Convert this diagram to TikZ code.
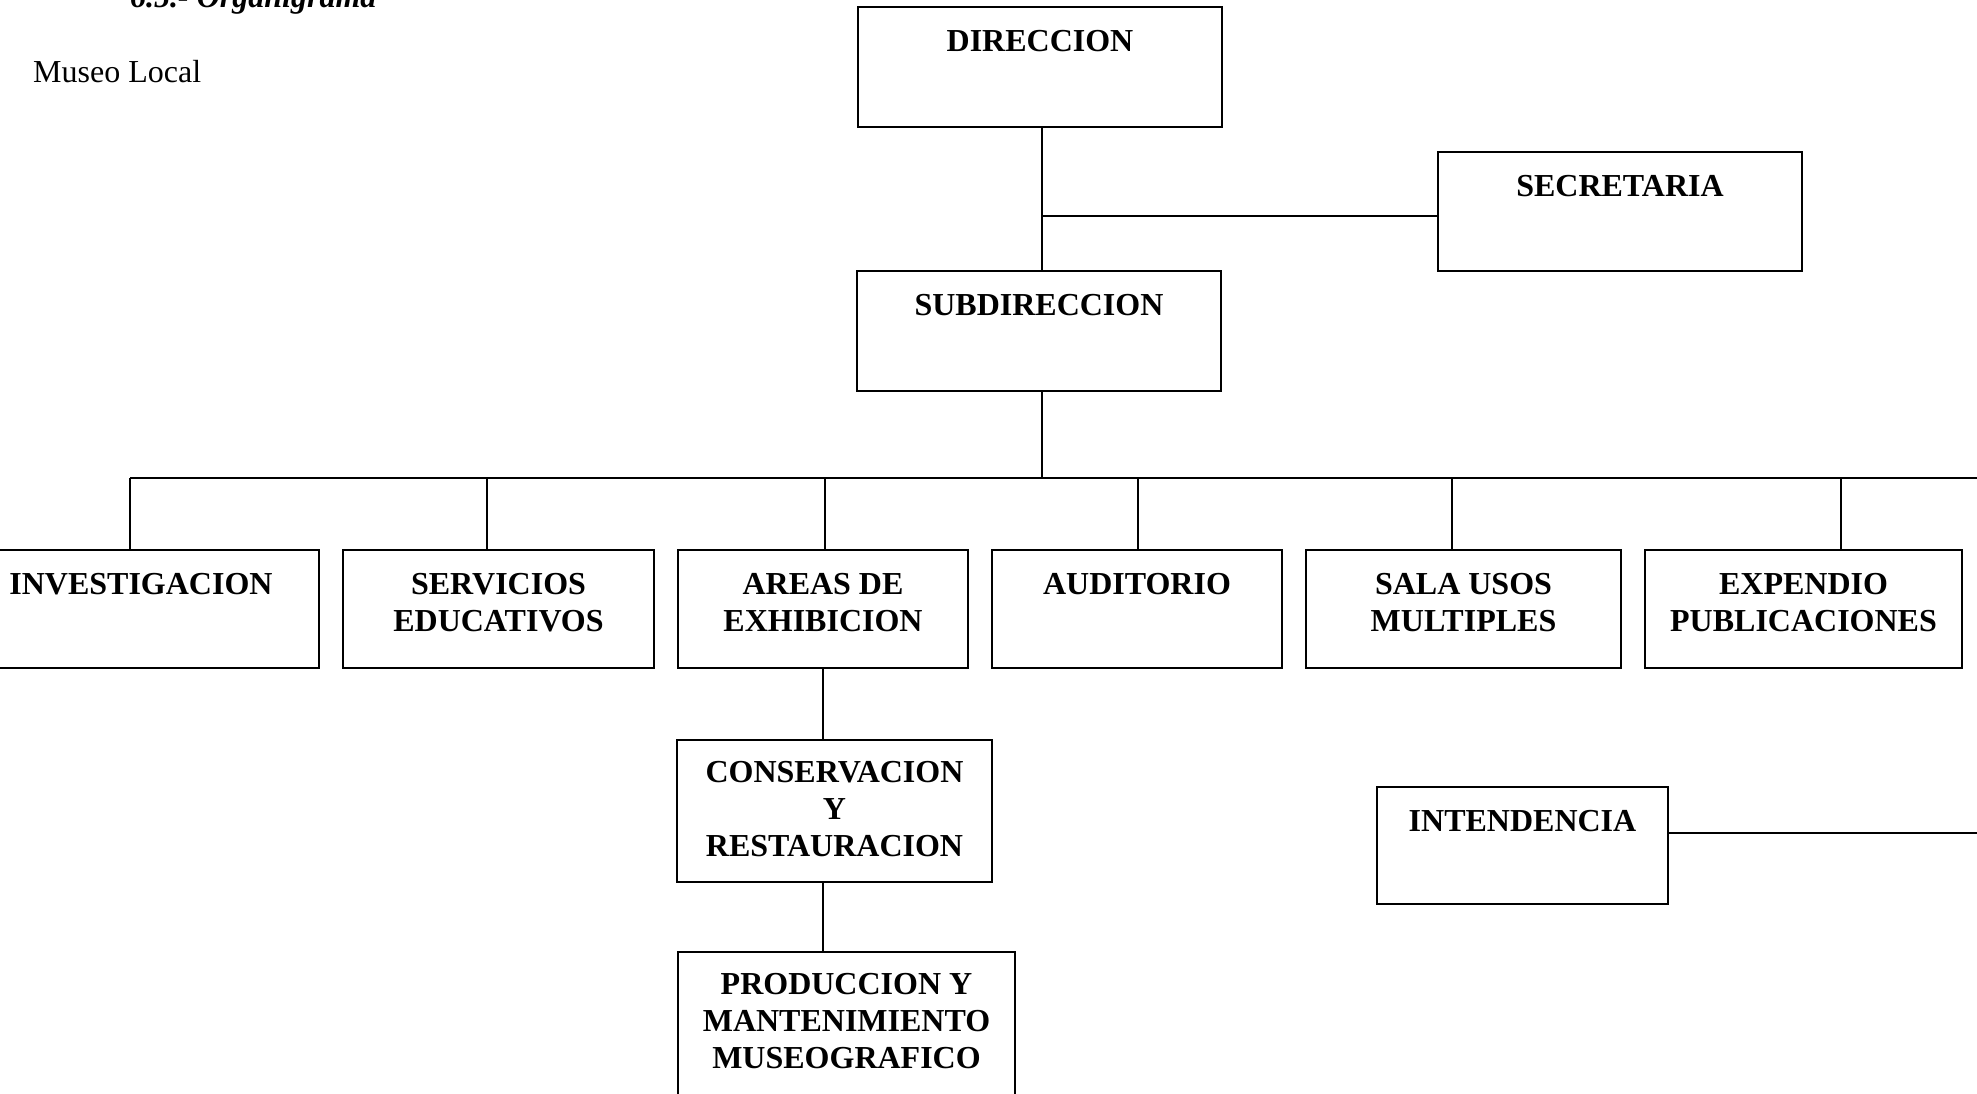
\documentclass[tikz,border=0pt]{standalone}
\usepackage{fontspec}
\setmainfont{Liberation Serif}
\begin{document}
\begin{tikzpicture}[x=1pt,y=-1pt,
  box/.style={draw, line width=1.6pt, inner sep=0pt},
  lbl/.style={anchor=north, yshift=-24pt, inner sep=0pt, align=center,
    font=\fontsize{32}{37}\selectfont\bfseries},
  con/.style={line width=1.6pt}]
\useasboundingbox (0,0) rectangle (1977,1093);
\clip (0,0) rectangle (1977,1093);
% titles
\node[anchor=base west, inner sep=0pt, font=\fontsize{32}{36}\selectfont\bfseries\itshape] (title) at (130,7) {6.5.- Organigrama};
\node[anchor=base west, inner sep=0pt, font=\fontsize{32}{36}\selectfont] (museo) at (33,82) {Museo Local};
% boxes
\node[box, minimum width=364pt, minimum height=120pt, label={[lbl]north:DIRECCION}] (dir) at (1040,67) {};
\node[box, minimum width=364pt, minimum height=119pt, label={[lbl]north:SECRETARIA}] (sec) at (1620,211.5) {};
\node[box, minimum width=364pt, minimum height=120pt, label={[lbl]north:SUBDIRECCION}] (sub) at (1039,331) {};
\node[box, minimum width=356pt, minimum height=118pt, label={[lbl]north:INVESTIGACION}] (inv) at (141,609) {};
\node[box, minimum width=311pt, minimum height=118pt, label={[lbl]north:SERVICIOS\\EDUCATIVOS}] (ser) at (498.5,609) {};
\node[box, minimum width=290pt, minimum height=118pt, label={[lbl]north:AREAS DE\\EXHIBICION}] (are) at (823,609) {};
\node[box, minimum width=290pt, minimum height=118pt, label={[lbl]north:AUDITORIO}] (aud) at (1137,609) {};
\node[box, minimum width=315pt, minimum height=118pt, label={[lbl]north:SALA USOS\\MULTIPLES}] (sal) at (1463.5,609) {};
\node[box, minimum width=317pt, minimum height=118pt, label={[lbl]north:EXPENDIO\\PUBLICACIONES}] (exp) at (1803.5,609) {};
\node[box, minimum width=315pt, minimum height=142pt, label={[lbl, yshift=2pt]north:CONSERVACION\\Y\\RESTAURACION}] (cons) at (834.5,811) {};
\node[box, minimum width=337pt, minimum height=178pt, label={[lbl, yshift=2pt]north:PRODUCCION Y\\MANTENIMIENTO\\MUSEOGRAFICO}] (pro) at (846.5,1041) {};
\node[box, minimum width=291pt, minimum height=117pt, label={[lbl]north:INTENDENCIA}] (int) at (1522.5,845.5) {};
% coordinates
\coordinate (vx) at (1042,0);
\coordinate (j1) at (1042,216);
\coordinate (busL) at (130,478);
\coordinate (busR) at (1990,478);
\coordinate (d1) at (130,478);
\coordinate (d2) at (487,478);
\coordinate (d3) at (825,478);
\coordinate (d4) at (1138,478);
\coordinate (d5) at (1452,478);
\coordinate (d6) at (1841,478);
\coordinate (intR) at (1990,833);
% connectors
\draw[con] (dir.south -| vx) -- (sub.north -| vx);
\draw[con] (j1) -- (j1 -| sec.west);
\draw[con] (sub.south -| vx) -- (busL -| vx);
\draw[con] (busL) -- (busR);
\draw[con] (d1) -- (d1 |- inv.north);
\draw[con] (d2) -- (d2 |- ser.north);
\draw[con] (d3) -- (d3 |- are.north);
\draw[con] (d4) -- (d4 |- aud.north);
\draw[con] (d5) -- (d5 |- sal.north);
\draw[con] (d6) -- (d6 |- exp.north);
\draw[con] (are.south) -- (are.south |- cons.north);
\draw[con] (are.south |- cons.south) -- (are.south |- pro.north);
\draw[con] (int.east |- intR) -- (intR);
\end{tikzpicture}
\end{document}
